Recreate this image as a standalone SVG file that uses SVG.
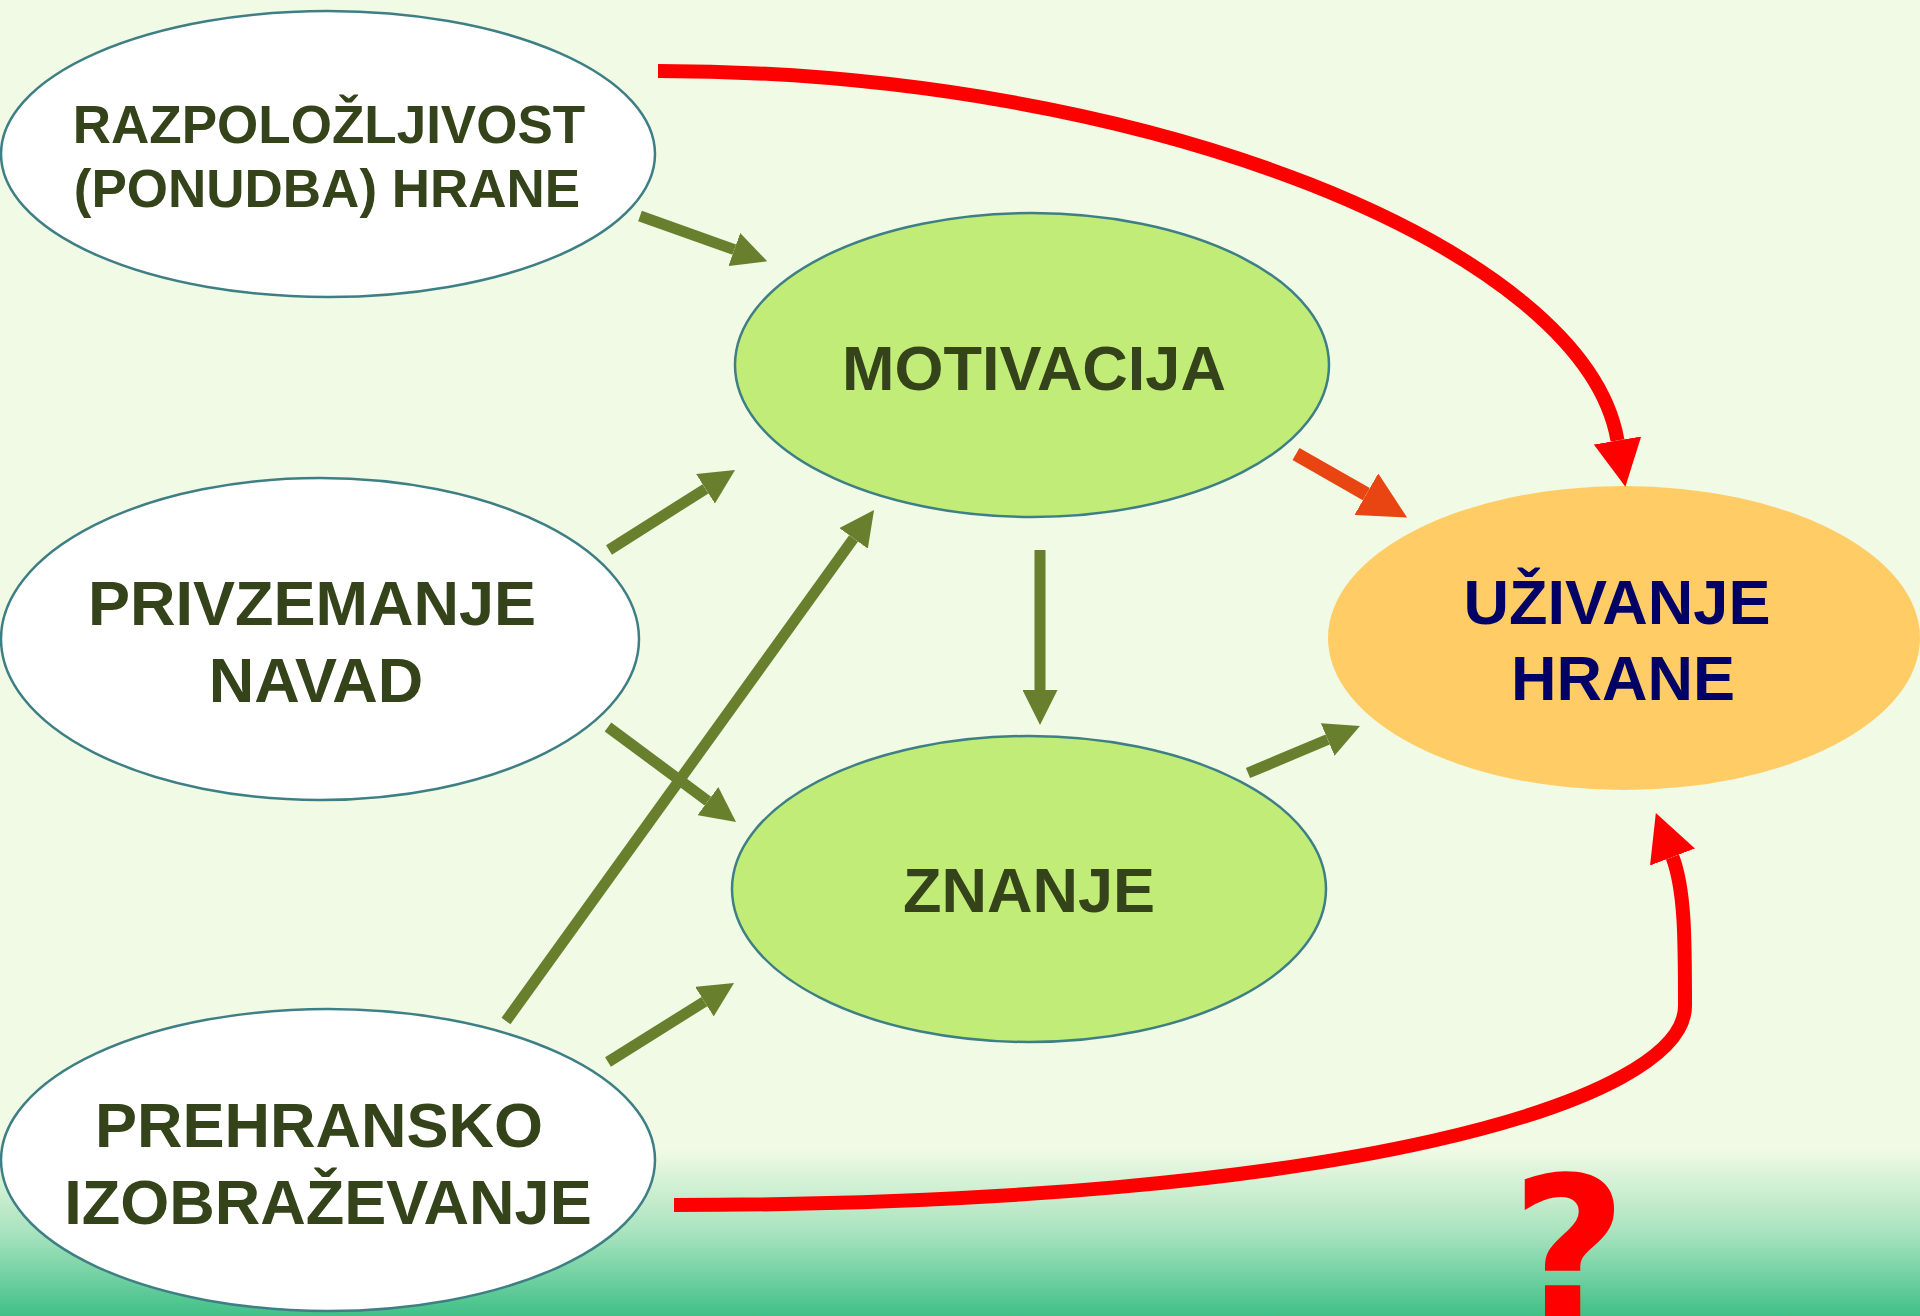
<svg xmlns="http://www.w3.org/2000/svg" width="1920" height="1316" viewBox="0 0 1920 1316">
  <defs>
    <linearGradient id="bg" x1="0" y1="1150" x2="0" y2="1316" gradientUnits="userSpaceOnUse">
      <stop offset="0" stop-color="#F0FAE4"/>
      <stop offset="0.5" stop-color="#A8E3BE"/>
      <stop offset="1" stop-color="#40C088"/>
    </linearGradient>
    <marker id="hg" markerUnits="userSpaceOnUse" viewBox="0 0 35 35" markerWidth="35" markerHeight="35" refX="0" refY="17.5" orient="auto">
      <path d="M0,0 L35,17.5 L0,35 z" fill="#68802E"/>
    </marker>
    <marker id="ho" markerUnits="userSpaceOnUse" viewBox="0 0 47 48" markerWidth="47" markerHeight="48" refX="0" refY="24" orient="auto">
      <path d="M0,0 L47,24 L0,48 z" fill="#E94512"/>
    </marker>
    <marker id="hr" markerUnits="userSpaceOnUse" viewBox="0 0 47 48" markerWidth="47" markerHeight="48" refX="0" refY="24" orient="auto">
      <path d="M0,0 L47,24 L0,48 z" fill="#FF0000"/>
    </marker>
  </defs>
  <style>
    .node { stroke: #3E7F85; stroke-width: 2.5; }
    .white { fill: #FFFFFF; }
    .lime { fill: #C2EC78; }
    .gold { fill: #FFCC66; stroke: none; }
    .lbl { font-family: "Liberation Sans", Arial, sans-serif; font-weight: bold; font-size: 63px; fill: #34431A; text-anchor: middle; }
    .small { font-size: 53px; }
    .navy { fill: #000066; }
    .g { stroke: #68802E; stroke-width: 11; fill: none; marker-end: url(#hg); }
    .o { stroke: #E94512; stroke-width: 14; fill: none; marker-end: url(#ho); }
    .r { stroke: #FF0000; stroke-width: 14; fill: none; marker-end: url(#hr); }
  </style>

  <rect x="0" y="0" width="1920" height="1316" fill="#F0FAE4"/>
  <rect x="0" y="1150" width="1920" height="166" fill="url(#bg)"/>

  <g id="n-razpolozljivost">
    <ellipse class="node white" cx="328" cy="154" rx="327" ry="143"/>
    <text class="lbl small" x="329" y="143">RAZPOLOŽLJIVOST</text>
    <text class="lbl small" x="327" y="207">(PONUDBA) HRANE</text>
  </g>
  <g id="n-privzemanje">
    <ellipse class="node white" cx="320" cy="639" rx="319" ry="161"/>
    <text class="lbl" x="312" y="625">PRIVZEMANJE</text>
    <text class="lbl" x="316" y="702">NAVAD</text>
  </g>
  <g id="n-prehransko">
    <ellipse class="node white" cx="328" cy="1160" rx="327" ry="151"/>
    <text class="lbl" x="319" y="1147">PREHRANSKO</text>
    <text class="lbl" x="328" y="1224">IZOBRAŽEVANJE</text>
  </g>
  <g id="n-motivacija">
    <ellipse class="node lime" cx="1032" cy="365" rx="297" ry="152"/>
    <text class="lbl" x="1034" y="390">MOTIVACIJA</text>
  </g>
  <g id="n-znanje">
    <ellipse class="node lime" cx="1029" cy="889" rx="297" ry="153"/>
    <text class="lbl" x="1029" y="912">ZNANJE</text>
  </g>
  <g id="n-uzivanje">
    <ellipse class="gold" cx="1624" cy="638" rx="296" ry="152"/>
    <text class="lbl navy" x="1617" y="624">UŽIVANJE</text>
    <text class="lbl navy" x="1623" y="700">HRANE</text>
  </g>

  <g id="connectors">
    <line class="g" x1="640" y1="216" x2="734.3" y2="249.6"/>
    <line class="g" x1="609" y1="550" x2="705.5" y2="488.8"/>
    <line class="g" x1="608" y1="727" x2="707.9" y2="801.1"/>
    <line class="g" x1="506" y1="1021" x2="853.6" y2="538.4"/>
    <line class="g" x1="608" y1="1062" x2="704.4" y2="1001.6"/>
    <line class="g" x1="1040" y1="550" x2="1040" y2="690"/>
    <line class="g" x1="1248" y1="773" x2="1327.7" y2="739.5"/>
    <line class="o" x1="1296" y1="454" x2="1366.3" y2="494.2"/>
    <path class="r" d="M658,71 C1150,71 1585,250 1617.5,440.5"/>
    <path class="r" d="M674,1205 C1350,1205 1685,1100 1685,1006 C1685,940 1685,890 1672.5,857"/>
  </g>

  <text x="1569" y="1320" font-family="'DejaVu Sans', Verdana, sans-serif" font-weight="bold" font-size="200" fill="#FF0000" text-anchor="middle">?</text>
</svg>
